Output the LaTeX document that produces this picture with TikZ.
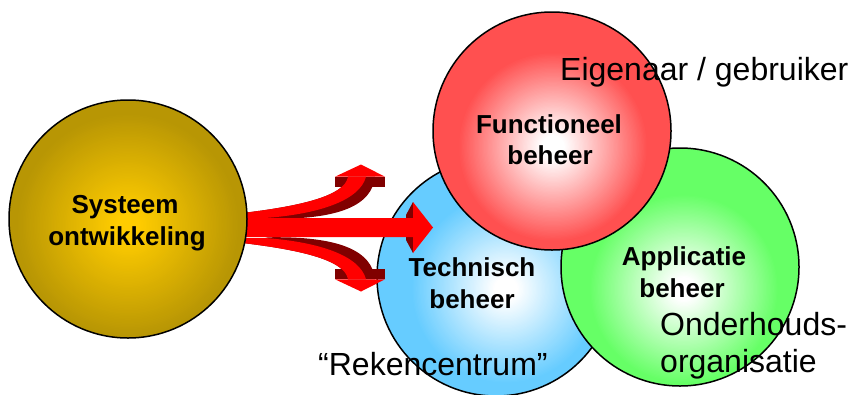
\documentclass[tikz,border=0pt]{standalone}
\usepackage{fontspec}
\setmainfont{Liberation Sans}

\definecolor{redEdge}{RGB}{255,80,80}
\definecolor{blueEdge}{RGB}{102,204,255}
\definecolor{greenEdge}{RGB}{102,255,102}
\definecolor{goldCore}{RGB}{255,204,0}
\definecolor{goldEdge}{RGB}{184,150,4}
\definecolor{arrowLit}{RGB}{255,0,0}
\definecolor{arrowDark}{RGB}{128,0,0}

% Disc of radius 119 filled with a radial blend: rim colour outside r1,
% blending to the core colour at r0 around a spot shifted by (dx,dy).
% #1,#2 centre; #3,#4 spot shift; #5 rim; #6 core; #7 r0; #8 r1
\newcommand\glowdisc[8]{%
  \begin{scope}
    \clip (#1,#2) circle[radius=119pt];
    \fill[#5] (#1,#2) circle[radius=119pt];
    \foreach \k in {0,...,64}{%
      \pgfmathsetmacro\glowr{#8-(#8-#7)*\k/64}%
      \pgfmathsetmacro\glowt{100*(64-\k)/64}%
      \fill[#5!\glowt!#6] (#1+#3,#2+#4) circle[radius=\glowr pt];
    }
  \end{scope}}

\tikzset{
  ball/.style={circle, draw=black, line width=1.5pt, minimum size=238pt, inner sep=0pt},
  lbl/.style={font=\bfseries\fontsize{26}{31}\selectfont, anchor=base, inner sep=0pt},
  note/.style={font=\fontsize{32}{38}\selectfont, anchor=base west, inner sep=0pt},
  % one curved branch of the 3D arrow, pointing up; origin on the axis of the main shaft
  branch/.pic={
    \fill[arrowDark] (245,-15.3) .. controls (300,-22) and (345,-32) .. (348,-51.3)
      -- (375,-51.3) .. controls (372,-23) and (340,-8) .. (268,-9.3) -- cycle;
    \fill[arrowDark] (335,-51.3) rectangle (385,-40.7);
    \fill[arrowLit] (238,-15.3) -- (245,-15.3) .. controls (300,-22) and (345,-32) .. (348,-51.3)
      -- (366,-51.3) .. controls (360,-28) and (320,-14) .. (265,-10) -- (238,-10) -- cycle;
    \fill[arrowLit] (335,-51.3) -- (385,-51.3) -- (361,-63.5) -- cycle;
  }
}

\begin{document}
\begin{tikzpicture}[x=1pt, y=-1pt]
\useasboundingbox (0,0) rectangle (850,394);

% the three management domains
\glowdisc{496}{277}{10}{12}{blueEdge}{white}{12}{95}
\node[ball] (tech) at (496,277) {};
\glowdisc{680}{267}{4}{22}{greenEdge}{white}{12}{95}
\node[ball] (app) at (680,267) {};
\glowdisc{552}{131}{1}{16}{redEdge}{white}{12}{95}
\node[ball] (func) at (552,131) {};

% branching arrow out of system development
\pic at (0,228) {branch};
\pic[yscale=-1] at (0,228) {branch};
\fill[arrowDark] (406,215) -- (413,202) -- (413,253) -- (406,240) -- cycle;
\fill[arrowLit] (238,218) -- (413,218) -- (413,202) -- (433,227.5) -- (413,253)
  -- (413,237) -- (238,237) -- cycle;

\glowdisc{128}{219}{0}{6}{goldEdge}{goldCore}{12}{112}
\node[ball] (sys) at (128,219) {};

% labels inside the circles
\node[lbl] (sysA) at (125,213) {Systeem};
\node[lbl] (sysB) at (127,245) {ontwikkeling};
\node[lbl] (funcA) at (549,133) {Functioneel};
\node[lbl] (funcB) at (550,164) {beheer};
\node[lbl] (techA) at (472,276) {Technisch};
\node[lbl] (techB) at (472,308) {beheer};
\node[lbl] (appA) at (684,265) {Applicatie};
\node[lbl] (appB) at (682,297) {beheer};

% who carries each role
\node[note] (owner) at (560,80) {Eigenaar / gebruiker};
\node[note] (maintA) at (660,335) {Onderhouds-};
\node[note] (maintB) at (660,372) {organisatie};
\node[note] (rc) at (318,375) {“Rekencentrum”};
\end{tikzpicture}
\end{document}
